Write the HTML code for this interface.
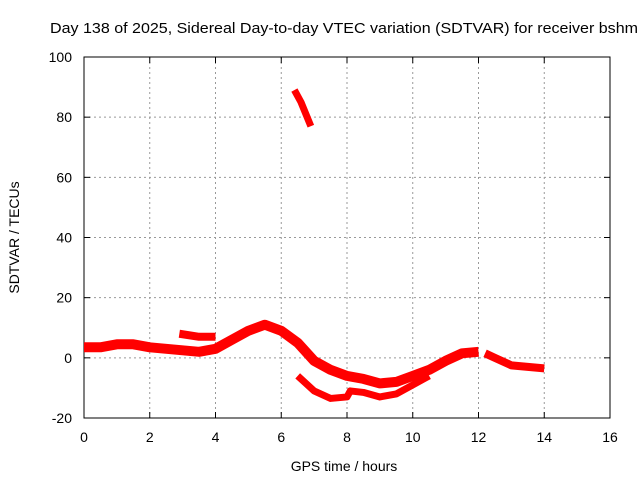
<!DOCTYPE html>
<html><head><meta charset="utf-8"><style>body{margin:0;background:#fff}svg{display:block;font-family:"Liberation Sans",sans-serif}</style></head>
<body>
<svg id="chart" width="640" height="480" viewBox="0 0 640 480"></svg>
<script>
const xTicks=[0,2,4,6,8,10,12,14,16];
const yTicks=[-20,0,20,40,60,80,100];
const segMainX=[0,0.5,1,1.5,2,2.5,3,3.5,4,4.5,5,5.5,6,6.5,7,7.5,8,8.5,9,9.5,10,10.5,11,11.5,12];
const segMainY=[3.5,3.5,4.5,4.5,3.5,3,2.5,2,3,6,9,11,9,5,-1,-4,-6,-7,-8.5,-8,-6,-4,-1,1.5,2];
const seg2X=[12.2,12.5,13,13.5,14];
const seg2Y=[1.5,0,-2.5,-3,-3.5];
const seg3X=[2.9,3.5,4];
const seg3Y=[8,7,7];
const seg4X=[6.5,7,7.5,8,8.1,8.5,9,9.5,10,10.5];
const seg4Y=[-6,-11,-13.5,-13,-11,-11.5,-13,-12,-9,-6];
const seg5X=[6.4,6.6,6.9];
const seg5Y=[89,85,77];
const L=84,R=610,T=57,B=418;
const sx=v=>L+(v-0)/16*(R-L);
const sy=v=>B-(v+20)/120*(B-T);
const svg=document.getElementById('chart');
const NS='http://www.w3.org/2000/svg';
function mk(t,a,txt){const e=document.createElementNS(NS,t);for(const k in a)e.setAttribute(k,a[k]);if(txt!=null)e.textContent=txt;svg.appendChild(e);return e;}
xTicks.forEach(v=>{
 if(v>0&&v<16){const g=mk('line',{x1:sx(v),x2:sx(v),y1:T,y2:B,stroke:'#999','stroke-dasharray':'2,3'});
 
 }
 const t=mk('text',{x:sx(v),y:B+24,'text-anchor':'middle','font-size':14},v);
 
 
 mk('line',{x1:sx(v),x2:sx(v),y1:B,y2:B-6,stroke:'#000'});
 mk('line',{x1:sx(v),x2:sx(v),y1:T,y2:T+6,stroke:'#000'});
});
yTicks.forEach(v=>{
 if(v>-20&&v<100){const g=mk('line',{x1:L,x2:R,y1:sy(v),y2:sy(v),stroke:'#999','stroke-dasharray':'2,3'});
 
 }
 const t=mk('text',{x:L-12,y:sy(v)+5,'text-anchor':'end','font-size':14},v);
 
 
 mk('line',{x1:L,x2:L+6,y1:sy(v),y2:sy(v),stroke:'#000'});
 mk('line',{x1:R,x2:R-6,y1:sy(v),y2:sy(v),stroke:'#000'});
});
const fr=mk('rect',{x:L,y:T,width:R-L,height:B-T,fill:'none',stroke:'#000'});


function series(xs,ys,name,w){
 const p=mk('polyline',{points:xs.map((x,i)=>sx(x)+','+sy(ys[i])).join(' '),fill:'none',stroke:'#f00','stroke-width':w,'stroke-linejoin':'round','stroke-linecap':'butt'});
 
 
}
series(segMainX,segMainY,'sdtvar-main-trace',10);
series(seg2X,seg2Y,'sdtvar-late-trace',8);
series(seg3X,seg3Y,'sdtvar-short-trace',8);
series(seg4X,seg4Y,'sdtvar-lower-trace',7);
series(seg5X,seg5Y,'sdtvar-spike-trace',7);
const ti=mk('text',{x:50,y:33,'font-size':15,textLength:588,lengthAdjust:'spacingAndGlyphs'},'Day 138 of 2025, Sidereal Day-to-day VTEC variation (SDTVAR) for receiver bshm');


const xt=mk('text',{x:(L+R)/2-3,y:471,'text-anchor':'middle','font-size':14},'GPS time / hours');


const yt=mk('text',{x:0,y:0,'text-anchor':'middle','font-size':14,transform:'translate(19,'+((T+B)/2)+') rotate(-90)'},'SDTVAR / TECUs');


</script>
</body></html>
